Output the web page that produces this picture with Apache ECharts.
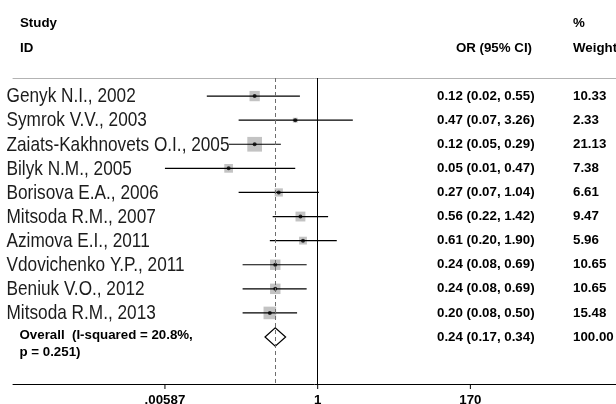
<!DOCTYPE html>
<html>
<head>
<meta charset="utf-8">
<script src="https://cdn.jsdelivr.net/npm/echarts@6/dist/echarts.min.js"></script>
<style>
  html, body { margin: 0; padding: 0; background: #ffffff; }
  #chart { width: 616px; height: 404px; }
</style>
</head>
<body>
<div id="chart"></div>
<script>
// Forest plot: odds ratios with 95% confidence intervals, log scale
const studies = [
  'Genyk N.I., 2002',
  'Symrok V.V., 2003',
  'Zaiats-Kakhnovets O.I., 2005',
  'Bilyk N.M., 2005',
  'Borisova E.A., 2006',
  'Mitsoda R.M., 2007',
  'Azimova E.I., 2011',
  'Vdovichenko Y.P., 2011',
  'Beniuk V.O., 2012',
  'Mitsoda R.M., 2013'
];
const oddsRatios = [0.12, 0.47, 0.12, 0.05, 0.27, 0.56, 0.61, 0.24, 0.24, 0.20];
const ciLower    = [0.024, 0.07, 0.05, 0.00587, 0.07, 0.22, 0.20, 0.08, 0.08, 0.08];
const ciUpper    = [0.55, 3.26, 0.29, 0.47, 1.04, 1.42, 1.90, 0.69, 0.69, 0.50];
const weights    = [10.33, 2.33, 21.13, 7.38, 6.61, 9.47, 5.96, 10.65, 10.65, 15.48];

const overallLabel  = ['Overall  (I-squared = 20.8%,', 'p = 0.251)'];
const overallOR     = 0.24;
const overallLower  = 0.17;
const overallUpper  = 0.34;
const overallWeight = 100.00;

const tickValues = [0.00587, 1, 170];
const tickLabels = ['.00587', '1', '170'];

// ---- layout / styling ----
// study names use a horizontally condensed sans face
const NAME_FONT = '21px "Liberation Sans", Arial, Helvetica, sans-serif';
const NAME_SCALE_X = 0.82;
const BOLD_FONT = 'bold 13.3px "Liberation Sans", Arial, Helvetica, sans-serif';
const COL_NAME = 6.5;
const COL_OVERALL = 19.5;
const COL_OR = 437;
const COL_WEIGHT = 573;
const ROW_TOP = 0.25, ROW_BOTTOM = 12.95;

const rowOf = i => i + 1;
const overallRow = studies.length + 1;
const fmt = v => v.toFixed(2);

const chart = echarts.init(document.getElementById('chart'), null, { renderer: 'canvas' });

const logMin = 3.54e-5, logMax = 22800;

const option = {
  backgroundColor: '#ffffff',
  animation: false,
  grid: { left: 13, right: 0, top: 78, bottom: 20 },
  xAxis: [
    {
      type: 'log', min: logMin, max: logMax, position: 'bottom',
      axisLine: { show: true, lineStyle: { color: '#000', width: 1 } },
      axisTick: { show: false }, axisLabel: { show: false }, splitLine: { show: false }
    },
    {
      type: 'log', min: logMin, max: logMax, position: 'top',
      axisLine: { show: true, lineStyle: { color: '#b3b3b3', width: 1 } },
      axisTick: { show: false }, axisLabel: { show: false }, splitLine: { show: false }
    }
  ],
  yAxis: {
    type: 'value', min: ROW_TOP, max: ROW_BOTTOM, inverse: true, show: false,
    splitLine: { show: false }
  },
  graphic: [
    { type: 'text', left: 20, top: 17, style: { text: 'Study', font: BOLD_FONT, fill: '#000' } },
    { type: 'text', left: 20, top: 42, style: { text: 'ID', font: BOLD_FONT, fill: '#000' } },
    { type: 'text', right: 616 - 532, top: 42, style: { text: 'OR (95% CI)', font: BOLD_FONT, fill: '#000' } },
    { type: 'text', left: COL_WEIGHT, top: 17, style: { text: '%', font: BOLD_FONT, fill: '#000' } },
    { type: 'text', left: COL_WEIGHT, top: 42, style: { text: 'Weight', font: BOLD_FONT, fill: '#000' } }
  ],
  series: [
    // reference lines: no effect (OR = 1) and pooled estimate
    {
      type: 'line', data: [], silent: true, z: 1,
      markLine: {
        symbol: 'none', silent: true, animation: false,
        label: { show: false },
        data: [
          { xAxis: 1, lineStyle: { color: '#000', width: 1, type: 'solid' } },
          { xAxis: overallOR, lineStyle: { color: '#6e6e6e', width: 1, type: [4, 3] } }
        ]
      }
    },
    // study weight boxes
    {
      type: 'scatter', z: 2, silent: true,
      symbol: 'rect',
      symbolSize: v => 3.2 * Math.sqrt(v[2]),
      itemStyle: { color: '#b4b4b4' },
      data: oddsRatios.map((v, i) => [v, rowOf(i), weights[i]])
    },
    // confidence intervals
    {
      type: 'custom', z: 3, silent: true,
      data: oddsRatios.map((v, i) => [ciLower[i], ciUpper[i], rowOf(i)]),
      renderItem: (params, api) => {
        const a = api.coord([api.value(0), api.value(2)]);
        const b = api.coord([api.value(1), api.value(2)]);
        return {
          type: 'line',
          shape: { x1: a[0], y1: a[1], x2: b[0], y2: b[1] },
          style: { stroke: '#000', lineWidth: 1.2 }
        };
      }
    },
    // point estimates
    {
      type: 'scatter', z: 4, silent: true,
      symbol: 'circle', symbolSize: 4,
      itemStyle: { color: '#000' },
      data: oddsRatios.map((v, i) => [v, rowOf(i)])
    },
    // pooled estimate diamond
    {
      type: 'custom', z: 3, silent: true,
      data: [[overallLower, overallOR, overallUpper, overallRow]],
      renderItem: (params, api) => {
        const row = api.value(3);
        const l = api.coord([api.value(0), row]);
        const c = api.coord([api.value(1), row]);
        const r = api.coord([api.value(2), row]);
        const h = 9.3;
        return {
          type: 'polygon',
          shape: { points: [[l[0], l[1]], [c[0], c[1] - h], [r[0], r[1]], [c[0], c[1] + h]] },
          style: { fill: 'none', stroke: '#000', lineWidth: 1.2 }
        };
      }
    },
    // study text columns
    {
      type: 'custom', z: 5, silent: true,
      data: studies.map((s, i) => [i]),
      renderItem: (params, api) => {
        const i = api.value(0);
        const y = api.coord([1, rowOf(i)])[1];
        return {
          type: 'group',
          children: [
            { type: 'text', x: COL_NAME, y: y + 0.5, scaleX: NAME_SCALE_X,
              style: { text: studies[i], font: NAME_FONT, fill: '#1c1c1c', align: 'left', verticalAlign: 'middle' } },
            { type: 'text', x: COL_OR, y: y,
              style: { text: fmt(oddsRatios[i]) + ' (' + fmt(ciLower[i]) + ', ' + fmt(ciUpper[i]) + ')',
                       font: BOLD_FONT, fill: '#000', align: 'left', verticalAlign: 'middle' } },
            { type: 'text', x: COL_WEIGHT, y: y,
              style: { text: fmt(weights[i]), font: BOLD_FONT, fill: '#000', align: 'left', verticalAlign: 'middle' } }
          ]
        };
      }
    },
    // pooled estimate text
    {
      type: 'custom', z: 5, silent: true,
      data: [[overallRow]],
      renderItem: (params, api) => {
        const y = api.coord([1, api.value(0)])[1];
        return {
          type: 'group',
          children: [
            { type: 'text', x: COL_OVERALL, y: y - 1.5,
              style: { text: overallLabel[0], font: BOLD_FONT, fill: '#000', align: 'left', verticalAlign: 'middle' } },
            { type: 'text', x: COL_OVERALL, y: y + 15.5,
              style: { text: overallLabel[1], font: BOLD_FONT, fill: '#000', align: 'left', verticalAlign: 'middle' } },
            { type: 'text', x: COL_OR, y: y,
              style: { text: fmt(overallOR) + ' (' + fmt(overallLower) + ', ' + fmt(overallUpper) + ')',
                       font: BOLD_FONT, fill: '#000', align: 'left', verticalAlign: 'middle' } },
            { type: 'text', x: COL_WEIGHT, y: y,
              style: { text: fmt(overallWeight), font: BOLD_FONT, fill: '#000', align: 'left', verticalAlign: 'middle' } }
          ]
        };
      }
    },
    // x-axis ticks and labels on the log scale
    {
      type: 'custom', z: 5, silent: true, clip: false,
      data: tickValues.map((v, i) => [v, i]),
      renderItem: (params, api) => {
        const p = api.coord([api.value(0), ROW_BOTTOM]);
        return {
          type: 'group',
          children: [
            { type: 'line', shape: { x1: p[0], y1: p[1], x2: p[0], y2: p[1] + 5 },
              style: { stroke: '#000', lineWidth: 1 } },
            { type: 'text', x: p[0], y: p[1] + 10,
              style: { text: tickLabels[api.value(1)], font: BOLD_FONT, fill: '#000', align: 'center', verticalAlign: 'top' } }
          ]
        };
      }
    }
  ]
};

chart.setOption(option);
</script>
</body>
</html>
